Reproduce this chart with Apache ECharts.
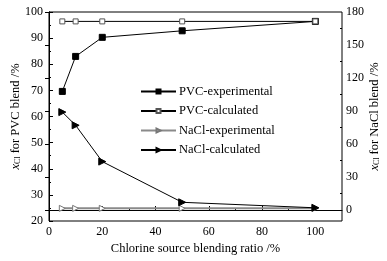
<!DOCTYPE html>
<html>
<head>
<meta charset="utf-8">
<script src="https://cdn.jsdelivr.net/npm/echarts@6/dist/echarts.min.js"></script>
<style>
html, body { margin: 0; padding: 0; background: #fff; }
#main { width: 387px; height: 261px; }
</style>
</head>
<body>
<div id="main"></div>
<script>
var ratio = [5, 10, 20, 50, 100];
var pvcExp = [69.6, 83.0, 90.3, 92.8, 96.4];
var pvcCalc = [96.4, 96.4, 96.4, 96.4, 96.4];
var naclExp = [1.5, 1.5, 1.5, 1.5, 1.5];
var naclCalc = [89, 77, 44, 7, 2];

var xTicks = [0, 20, 40, 60, 80, 100];
var xMinor = [10, 30, 50, 70, 90];
var rightTicks = [0, 30, 60, 90, 120, 150, 180];
var rightMinor = [15, 45, 75, 105, 135, 165];

function pairs(xs, ys) {
    return xs.map(function (x, i) { return [x, ys[i]]; });
}

var font = 'Liberation Serif';
var chart = echarts.init(document.getElementById('main'));

// x_Cl name with italic x and small subscript
var nameRich = {
    i: { fontFamily: font, fontSize: 12.5, fontStyle: 'italic', color: '#000' },
    s: { fontFamily: font, fontSize: 8, color: '#000', verticalAlign: 'bottom', padding: [4, 0, 0, 0] }
};

var option = {
    animation: false,
    textStyle: { fontFamily: font },
    grid: {
        left: 49, right: 45, top: 12, bottom: 40,
        outerBoundsMode: 'none', containLabel: false,
        show: true, borderColor: '#000', borderWidth: 1
    },
    legend: {
        orient: 'vertical',
        left: 140, top: 85, padding: 0,
        itemWidth: 35, itemHeight: 5, itemGap: 6.5,
        textStyle: { fontFamily: font, fontSize: 12.5, color: '#000', padding: [0, 0, 0, -2] },
        data: ['PVC-experimental', 'PVC-calculated', 'NaCl-experimental', 'NaCl-calculated']
    },
    xAxis: [{
        type: 'value', min: 0, max: 110, position: 'bottom',
        name: 'Chlorine source blending ratio /%',
        nameLocation: 'middle', nameGap: 21, nameMoveOverlap: false,
        nameTextStyle: { fontFamily: font, fontSize: 12.5, color: '#000' },
        axisLine: { lineStyle: { color: '#000', width: 1 } },
        axisTick: { inside: true, length: 4, customValues: xTicks, lineStyle: { color: '#000' } },
        axisLabel: { customValues: xTicks, color: '#000', fontSize: 12, margin: 5, fontFamily: font },
        splitLine: { show: false }
    }, {
        type: 'value', min: 0, max: 110, position: 'bottom',
        axisLine: { show: false },
        axisTick: { inside: true, length: 2, customValues: xMinor, lineStyle: { color: '#000' } },
        axisLabel: { show: false },
        splitLine: { show: false }
    }],
    yAxis: [{
        type: 'value', min: 20, max: 100, interval: 10, position: 'left',
        name: '{i|x}{s|Cl} for PVC blend /%',
        nameLocation: 'middle', nameGap: 27, nameRotate: 90, nameMoveOverlap: false,
        nameTextStyle: { fontFamily: font, fontSize: 12.5, color: '#000', rich: nameRich },
        axisLine: { show: true, lineStyle: { color: '#000', width: 1 } },
        axisTick: { inside: true, length: 4, lineStyle: { color: '#000' } },
        minorTick: { show: true, splitNumber: 2, length: 2, lineStyle: { color: '#000' } },
        axisLabel: { color: '#000', fontSize: 12, margin: 6, fontFamily: font },
        splitLine: { show: false }
    }, {
        type: 'value', min: -10, max: 180, position: 'right',
        name: '{i|x}{s|Cl} for NaCl blend /%',
        nameLocation: 'middle', nameGap: 26, nameRotate: 90, nameMoveOverlap: false,
        nameTextStyle: { fontFamily: font, fontSize: 12.5, color: '#000', rich: nameRich },
        axisLine: { show: true, lineStyle: { color: '#000', width: 1 } },
        axisTick: { inside: true, length: 4, customValues: rightTicks, lineStyle: { color: '#000' } },
        axisLabel: { customValues: rightTicks, color: '#000', fontSize: 12, margin: 4, fontFamily: font },
        splitLine: { show: false }
    }, {
        type: 'value', min: -10, max: 180, position: 'right',
        axisLine: { show: false },
        axisTick: { inside: true, length: 2, customValues: rightMinor, lineStyle: { color: '#000' } },
        axisLabel: { show: false },
        splitLine: { show: false }
    }],
    series: [{
        name: 'PVC-experimental', type: 'line', yAxisIndex: 0,
        data: pairs(ratio, pvcExp),
        symbol: 'rect', symbolSize: 6,
        lineStyle: { color: '#000', width: 1 },
        itemStyle: { color: '#000', borderColor: '#000', borderWidth: 1 }
    }, {
        name: 'PVC-calculated', type: 'line', yAxisIndex: 0,
        data: pairs(ratio, pvcCalc),
        symbol: 'rect', symbolSize: 5, showAllSymbol: true,
        lineStyle: { color: '#000', width: 1 },
        itemStyle: { color: '#fff', borderColor: '#555', borderWidth: 1 }
    }, {
        name: 'NaCl-experimental', type: 'line', yAxisIndex: 1,
        data: pairs(ratio, naclExp),
        symbol: 'triangle', symbolSize: 6, symbolRotate: -90,
        lineStyle: { color: '#8a8a8a', width: 2 },
        itemStyle: { color: '#fff', borderColor: '#777', borderWidth: 1 }
    }, {
        name: 'NaCl-calculated', type: 'line', yAxisIndex: 1,
        data: pairs(ratio, naclCalc),
        symbol: 'triangle', symbolSize: 7, symbolRotate: -90,
        lineStyle: { color: '#000', width: 1 },
        itemStyle: { color: '#000', borderColor: '#000', borderWidth: 1 }
    }]
};

chart.setOption(option);
window.addEventListener('resize', function () { chart.resize(); });
</script>
</body>
</html>
